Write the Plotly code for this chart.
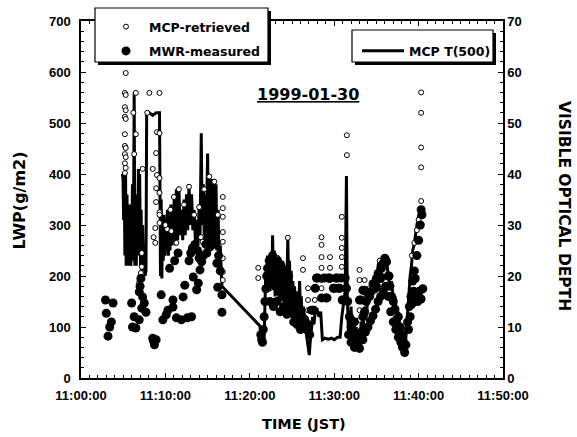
import pandas as pd
import plotly.graph_objects as go

START = pd.Timestamp("1999-01-30 11:00:00")

# MCP T(500): visible optical depth, minutes after 11:00 JST
tau_min = [
    4.90, 4.98, 5.05, 5.12, 5.20, 5.28, 5.35, 5.45, 5.55, 5.65,
    5.72, 5.80, 5.90, 6.00, 6.10, 6.20, 6.30, 6.38, 6.45, 6.55,
    6.62, 6.70, 6.80, 6.88, 6.95, 7.05, 7.12, 7.20, 7.30, 7.40,
    7.50, 7.58, 7.70, 7.78, 8.10, 8.50, 8.90, 9.30, 9.36, 9.42,
    9.50, 9.58, 9.65, 9.75, 9.85, 9.95, 10.05, 10.15, 10.25, 10.35,
    10.45, 10.55, 10.65, 10.75, 10.85, 10.95, 11.05, 11.15, 11.30, 11.45,
    11.60, 11.75, 11.90, 12.05, 12.20, 12.35, 12.50, 12.65, 12.80, 12.95,
    13.10, 13.25, 13.40, 13.55, 13.70, 13.85, 14.00, 14.10, 14.25, 14.35,
    14.50, 14.60, 14.75, 14.85, 15.00, 15.10, 15.25, 15.35, 15.50, 15.60,
    15.75, 15.85, 16.00, 16.10, 16.25, 16.35, 16.50, 16.60, 16.70,
    21.20, 21.30, 21.40, 21.55, 21.70, 21.80, 21.90, 22.00, 22.10, 22.20,
    22.30, 22.40, 22.50, 22.60, 22.70, 22.80, 22.90, 23.00, 23.10, 23.20,
    23.30, 23.40, 23.50, 23.60, 23.70, 23.80, 23.90, 24.00, 24.10, 24.20,
    24.30, 24.40, 24.50, 24.60, 24.70, 24.80, 24.90, 25.00, 25.10, 25.20,
    25.30, 25.40, 25.50, 25.60, 25.70, 25.80, 25.90, 26.00, 26.10, 26.20,
    26.35, 26.50, 26.65, 26.75, 26.90, 27.05, 27.15, 27.30, 27.45, 27.60,
    27.75, 28.00, 28.20, 28.40, 28.60, 28.90, 29.30, 29.70, 30.00, 30.40,
    30.70, 30.90, 31.10, 31.30, 31.45, 31.55, 31.70, 31.85, 32.00, 32.15,
    32.30, 32.45, 32.60, 32.80, 33.00, 33.20, 33.40, 33.60, 33.80, 34.00,
    34.20, 34.40, 34.60, 34.80, 35.00, 35.20, 35.40, 35.60, 35.80, 36.00,
    36.20, 36.40, 36.60, 36.80, 37.00, 37.20, 37.40, 37.60, 37.80, 38.00,
    38.20, 38.35, 38.50, 38.70, 38.85, 39.00, 39.15, 39.30, 39.45, 39.60,
    39.75, 39.90, 40.05, 40.20,
]
tau_val = [
    40, 39, 31, 39, 24, 40, 22, 36, 22, 30,
    22, 34, 22, 25, 38, 23, 56, 22, 30, 22,
    36, 24, 41, 25, 40, 22, 33, 21, 30, 22,
    26, 20, 21, 52, 52, 51.5, 52, 52, 27, 20,
    35, 19.5, 30, 23, 32, 24, 31, 25, 33, 24,
    30, 25, 34, 26, 32, 27, 36, 26, 37, 27,
    37.5, 28, 33, 27, 35, 28, 36, 29, 38, 30,
    36, 29, 33, 27, 31, 26, 34, 27, 48, 30,
    38, 28, 36, 29, 44, 30, 40, 28, 39, 30,
    39, 27, 38, 25, 33, 22, 26, 19, 18,
    10.2, 8.5, 7.0, 10, 8, 15, 20, 17, 24, 19,
    23, 17, 22, 18, 28, 20, 25, 16, 22, 18,
    24, 17, 21, 15, 20, 17, 23, 18, 22, 16,
    21, 18, 27.5, 19, 23, 16, 21, 15, 19, 14,
    18, 13, 17, 12, 16, 14, 19, 13, 16, 11,
    14, 9, 12, 8, 6, 4.5, 7, 10, 12, 10.5,
    13, 13.3, 12, 13, 7.5, 7.8, 7.6, 7.8, 7.5, 8,
    8, 12, 15, 17, 39.6, 16, 8.4, 9, 14, 7,
    12, 6, 10, 8, 6, 11, 9, 14, 12, 16,
    15, 18, 17, 20, 19, 22, 23.5, 21, 23, 22,
    23.5, 20, 18, 19, 15, 16, 12, 13, 9, 10,
    7, 4.5, 8, 13, 17, 20, 22, 25, 26, 28,
    29, 31, 32, 33,
]

# MCP-retrieved liquid water path (g/m2)
mcp_min = [
    5.3, 5.2, 5.3, 5.2, 5.3, 5.2, 5.3, 5.2, 5.2, 5.3, 5.2, 5.3, 5.2, 5.3, 5.2,
    6.2, 6.5, 6.5, 6.3, 8.1, 7.85,
    9.3, 9.0, 9.3, 8.9, 9.0, 9.3, 8.9, 9.3, 8.9, 9.3, 9.3, 9.3,
    7.3, 8.5, 8.8, 8.6, 8.8, 7.2, 7.2, 7.1, 6.9, 6.9, 10.2, 10.7, 11.3,
    14.2, 14.4, 15.6, 15.8,
    10.0, 10.6, 11.0, 11.6, 12.2, 12.8, 13.4, 14.0, 14.6, 15.2, 15.8, 16.2,
    16.8, 16.8, 16.8, 16.8, 16.8, 16.8, 16.8, 16.8,
    21.0, 21.0,
    26.3, 26.3, 26.9, 26.9, 26.9, 27.7, 27.7, 27.7,
    28.5, 28.5, 28.5, 28.5, 28.5, 28.5, 29.5, 29.5, 29.5,
    30.9, 30.9, 30.9, 30.9, 30.9, 31.5, 31.5,
    33.0, 33.0, 33.0, 33.0, 33.6, 33.3, 34.2,
    22.5, 23.3, 24.5, 25.2, 35.4, 36.2, 37.0, 38.0,
    39.2, 39.5, 39.8, 40.0,
    40.3, 40.3, 40.3, 40.3, 40.3,
]
mcp_lwp = [
    598, 559, 555, 531, 525, 512, 508, 478, 455, 451, 439, 433, 421, 412, 402,
    520, 559, 478, 439, 559, 520,
    559, 482, 480, 441, 398, 392, 372, 363, 345, 325, 320, 304,
    410, 410, 294, 276, 265, 245, 218, 206, 188, 182, 292, 288, 265,
    276, 267, 282, 267,
    300, 330, 355, 370, 340, 375, 320, 335, 370, 395, 385, 320,
    355, 333, 316, 286, 267, 235, 208, 192,
    216, 196,
    235, 212, 176, 153, 133, 176, 153, 133,
    276, 261, 237, 216, 192, 176, 237, 216, 192,
    316, 275, 255, 237, 218, 476, 437,
    212, 192, 133, 114, 192, 172, 176,
    220, 235, 275, 150, 230, 235, 150, 100,
    240, 265, 290, 310,
    560, 520, 452, 413, 347,
]

# MWR-measured liquid water path (g/m2)
mwr_min = [
    2.9, 3.0, 3.2, 3.4, 3.6, 3.8,
    6.0, 6.1, 6.3, 6.5, 6.9, 6.9, 7.0, 7.1, 7.2, 7.3, 7.5, 7.7,
    8.5, 8.6, 8.7, 8.9,
    9.5, 9.7, 10.1, 10.3, 10.5, 10.9, 10.9, 11.1, 11.3, 11.5,
    11.9, 12.1, 12.3, 12.6, 12.8, 13.0, 13.1, 13.2, 13.3, 13.5,
    13.7, 13.8, 13.9, 14.0, 14.1, 14.3, 14.5, 14.8, 14.9, 15.0,
    15.2, 15.3, 15.5, 15.6, 15.8, 16.0, 16.1, 16.2, 16.3, 16.5,
    16.7, 16.7,
    21.3, 21.4, 21.5, 21.6, 21.7, 21.8, 21.9, 22.0, 22.1, 22.2,
    22.3, 22.4, 22.5, 22.6, 22.7, 22.8, 22.9, 23.0, 23.1, 23.2,
    23.3, 23.4, 23.5, 23.6, 23.7, 23.8, 23.9, 24.0, 24.1, 24.2,
    24.3, 24.4, 24.5, 24.6, 24.7, 24.8, 24.9, 25.0, 25.1, 25.2,
    25.3, 25.5, 25.7, 25.9, 26.1, 26.3, 26.5, 26.7, 26.9, 27.1,
    27.3, 27.45, 27.6, 27.75, 27.9, 28.05, 28.5, 28.8, 29.0, 29.15,
    29.3, 29.45, 29.9, 30.05, 30.2, 30.35, 30.5, 30.65, 30.8, 30.95,
    31.1, 31.3, 31.45, 31.6, 31.8, 32.0, 32.2, 32.4, 32.6, 32.8,
    33.0, 33.2, 33.4, 33.0, 33.2, 33.4, 33.6, 33.6, 33.8, 34.0,
    34.2, 34.4, 34.6, 34.8, 35.0, 35.2, 35.4, 35.6, 35.8, 36.0,
    36.2, 36.4, 36.6, 36.8, 37.0, 37.2, 37.4, 37.6, 37.8, 38.0,
    38.2, 38.35, 38.5, 38.7, 38.9, 39.1, 39.3, 39.5, 39.7, 39.9,
    40.1, 40.3, 40.5, 39.8, 40.0, 40.2, 40.3, 40.4,
    31.7, 32.0, 32.4, 33.4, 33.7, 34.0, 34.3, 34.6, 34.9, 35.2,
    35.5, 35.8, 36.1, 36.4, 36.7, 37.0, 37.3, 37.6, 37.9, 38.1,
    35.0, 35.5, 36.5, 38.8, 39.0, 39.2, 39.4, 39.6, 22.4, 22.8,
    23.2, 23.6, 24.0, 24.4, 24.8, 25.2, 25.6, 26.0,
]
mwr_lwp = [
    153, 127, 82, 100, 110, 147,
    147, 100, 120, 98, 114, 169, 180, 195, 137, 159, 147, 129,
    78, 72, 65, 75,
    163, 114, 124, 133, 215, 139, 153, 230, 118, 245,
    114, 159, 182, 118, 230, 245, 120, 255, 198, 262,
    173, 250, 186, 235, 212, 228, 240, 262, 245, 275,
    290, 257, 295, 270, 280, 262, 225, 178, 240, 210,
    163, 129,
    85, 75, 70, 95, 120, 150, 175, 200, 215, 190,
    230, 205, 185, 215, 240, 200, 225, 180, 210, 195,
    230, 170, 205, 185, 220, 160, 190, 175, 200, 165,
    185, 150, 175, 200, 160, 140, 170, 135, 155, 125,
    145, 120, 135, 110, 125, 100, 115, 95, 105, 85,
    133, 133, 133, 176, 196, 196, 157, 196, 157, 157,
    196, 196, 176, 176, 196, 196, 176, 176, 196, 153,
    153, 196, 176, 150, 120, 100, 85, 110, 75, 65,
    58, 90, 120, 153, 153, 172, 172, 130, 150, 165,
    160, 170, 185, 175, 195, 205, 200, 215, 225, 235,
    228, 200, 180, 160, 150, 135, 115, 120, 100, 85,
    70, 50, 65, 110, 140, 160, 190, 210, 165, 150,
    170, 155, 175, 240, 270, 300, 330, 320,
    85, 70, 60, 75, 90, 100, 112, 122, 135, 150,
    160, 170, 180, 160, 130, 110, 95, 80, 70, 60,
    180, 195, 200, 95, 120, 145, 170, 195, 150, 140,
    150, 130, 140, 125, 130, 110, 105, 95,
]

x_ticks = ["11:00:00", "11:10:00", "11:20:00", "11:30:00", "11:40:00", "11:50:00"]


def clock(minutes):
    return START + pd.to_timedelta(minutes, unit="min")


def px_x(p):
    # horizontal pixel -> paper fraction of the 81..503 plot box
    return (p - 81) / 422


def px_y(p):
    # vertical pixel -> paper fraction of the 21..378 plot box
    return (378 - p) / 357


TICK_FAMILY = "Liberation Sans"
TITLE_FAMILY = "DejaVu Sans"
INK = "black"

fig = go.Figure()

fig.add_trace(go.Scatter(
    x=clock(tau_min), y=tau_val, mode="lines", name="MCP T(500)",
    line=dict(color=INK, width=3), yaxis="y", legend="legend2",
))
fig.add_trace(go.Scatter(
    x=clock(mcp_min), y=mcp_lwp, mode="markers", name="MCP-retrieved",
    marker=dict(symbol="circle", size=5, color="white", line=dict(color=INK, width=1)),
    yaxis="y2", legend="legend", legendgroup="retrieved",
))
fig.add_trace(go.Scatter(
    x=clock(mwr_min), y=mwr_lwp, mode="markers", name="MWR-measured",
    marker=dict(symbol="circle", size=9, color=INK),
    yaxis="y2", legend="legend", legendgroup="measured",
))

tick_font = dict(family=TICK_FAMILY, size=13, color=INK, weight="bold")
tick_vals = [START + pd.Timedelta(minutes=10 * i) for i in range(len(x_ticks))]
axis_common = dict(
    ticks="inside", ticklen=5, tickwidth=1, tickcolor=INK,
    showline=True, linecolor=INK, linewidth=1.5,
    showgrid=False, zeroline=False, tickfont=tick_font,
)

# framed legend boxes with a drop shadow
shapes = []
for left, top, right, bottom in [(95, 8, 268, 62), (352, 30, 493, 62)]:
    shapes.append(dict(type="rect", xref="paper", yref="paper", layer="above",
                       x0=px_x(left + 3), x1=px_x(right + 3),
                       y0=px_y(bottom + 3), y1=px_y(top + 3),
                       fillcolor=INK, line=dict(width=0)))
    shapes.append(dict(type="rect", xref="paper", yref="paper", layer="above",
                       x0=px_x(left), x1=px_x(right), y0=px_y(bottom), y1=px_y(top),
                       fillcolor="white", line=dict(color=INK, width=1.2)))

legend_font = dict(family=TITLE_FAMILY, size=12.5, color=INK, weight="bold")

fig.update_layout(
    width=577, height=437,
    margin=dict(l=81, r=74, t=21, b=59),
    paper_bgcolor="white", plot_bgcolor="white",
    showlegend=True,
    xaxis=dict(
        type="date", range=[tick_vals[0], tick_vals[-1]],
        tickvals=tick_vals, ticktext=x_ticks, ticklabelstandoff=5,
        minor=dict(dtick=60000, tick0=tick_vals[0], ticks="inside", ticklen=3, tickcolor=INK),
        mirror="ticks", **axis_common,
    ),
    yaxis=dict(
        side="right", range=[0, 70], dtick=10,
        minor=dict(dtick=2, ticks="inside", ticklen=3, tickcolor=INK),
        **axis_common,
    ),
    yaxis2=dict(
        overlaying="y", side="left", range=[0, 700], dtick=100, ticklabelstandoff=6,
        minor=dict(dtick=20, ticks="inside", ticklen=3, tickcolor=INK),
        **axis_common,
    ),
    legend=dict(
        x=px_x(103), y=px_y(12), xanchor="left", yanchor="top",
        bgcolor="rgba(0,0,0,0)", borderwidth=0,
        font=legend_font, itemwidth=36,
        traceorder="grouped", tracegroupgap=5,
    ),
    legend2=dict(
        x=px_x(357), y=px_y(36), xanchor="left", yanchor="top",
        bgcolor="rgba(0,0,0,0)", borderwidth=0,
        font=legend_font, itemwidth=42,
    ),
    shapes=shapes,
    annotations=[
        dict(text="<b><u>1999-01-30</u></b>", xref="paper", yref="paper",
             x=px_x(308), y=px_y(94), xanchor="center", yanchor="middle",
             showarrow=False, font=dict(family=TITLE_FAMILY, size=16, color=INK)),
        dict(text="<b>LWP(g/m2)</b>", xref="paper", yref="paper",
             x=px_x(18.5), y=px_y(201), xanchor="center", yanchor="middle",
             textangle=-90, showarrow=False,
             font=dict(family=TITLE_FAMILY, size=16, color=INK)),
        dict(text="<b>VISIBLE OPTICAL DEPTH</b>", xref="paper", yref="paper",
             x=px_x(564), y=px_y(206), xanchor="center", yanchor="middle",
             textangle=90, showarrow=False,
             font=dict(family=TITLE_FAMILY, size=15.5, color=INK)),
        dict(text="<b>TIME (JST)</b>", xref="paper", yref="paper",
             x=px_x(303.5), y=px_y(424), xanchor="center", yanchor="middle",
             showarrow=False, font=dict(family=TITLE_FAMILY, size=14.5, color=INK)),
    ],
)

fig.write_html("out.html")
